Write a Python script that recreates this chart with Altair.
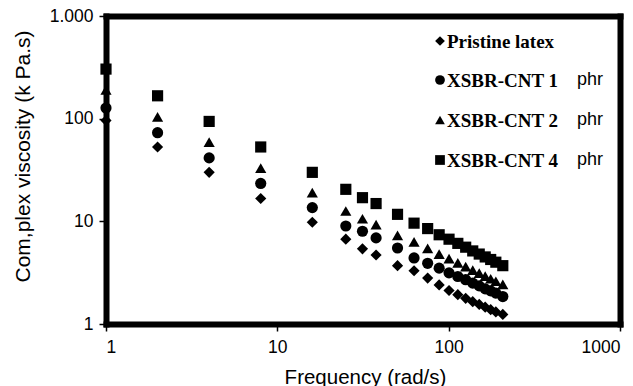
import altair as alt
import pandas as pd

# ---- data ----
freq = [1, 2, 4, 8, 16, 25.1, 31.4, 37.7, 50.3, 62.8, 75.4, 88.0, 100.5, 113.1,
        125.7, 138.2, 150.8, 163.4, 175.9, 188.5, 207]
series = ["Pristine latex", "XSBR-CNT 1 phr", "XSBR-CNT 2 phr", "XSBR-CNT 4 phr"]
pristine = [96, 53, 30, 16.7, 9.8, 6.7, 5.4, 4.7, 3.7, 3.3, 2.8, 2.4, 2.12, 1.93,
            1.78, 1.65, 1.55, 1.46, 1.38, 1.31, 1.24]
cnt1 = [127, 73, 41.5, 23.4, 13.6, 9.0, 8.0, 6.9, 5.5, 4.4, 3.9, 3.5, 3.15, 2.9,
        2.7, 2.5, 2.35, 2.2, 2.1, 2.0, 1.85]
cnt2 = [191, 104, 59, 33, 19, 12.6, 10.6, 9.3, 7.3, 6.3, 5.45, 4.8, 4.33, 3.94,
        3.62, 3.35, 3.13, 2.93, 2.76, 2.61, 2.43]
cnt4 = [304, 167, 94, 53, 30, 20.5, 17, 14.9, 11.7, 9.6, 8.5, 7.4, 6.7, 6.1,
        5.6, 5.15, 4.8, 4.5, 4.25, 4.0, 3.7]
shapes = ["diamond", "circle", "triangle-up", "square"]
legend_main = ["Pristine latex", "XSBR-CNT 1", "XSBR-CNT 2", "XSBR-CNT 4"]
legend_suffix = ["", "phr", "phr", "phr"]
axis_domain = [1, 1000]

values = [pristine, cnt1, cnt2, cnt4]
rows = []
for name, vals in zip(series, values):
    for f, v in zip(freq, vals):
        rows.append({"series": name, "freq": f, "visc": v})
df = pd.DataFrame(rows)

W, H = 514, 308

xscale = alt.Scale(type="log", domain=axis_domain, nice=False)
yscale = alt.Scale(type="log", domain=axis_domain, nice=False)

# thick black domain lines on the four sides form the frame
xaxis = alt.Axis(title="Frequency (rad/s)", values=[1, 10, 100, 1000],
                 format="d", labelPadding=7, titleX=259, titleY=53,
                 titleBaseline="middle", titleFontSize=20.5)
yaxis = alt.Axis(title="Com,plex viscosity (k Pa.s)", values=[1, 10, 100, 1000],
                 labelExpr="datum.value == 1000 ? '1.000' : datum.label",
                 format="d", labelPadding=6, titleX=-83, titleY=140,
                 titleAngle=-90, titleAlign="center", titleBaseline="middle",
                 titleFontSize=21)
xaxis_top = alt.Axis(orient="top", title=None, labels=False, ticks=False,
                     values=[1, 10, 100, 1000])
yaxis_right = alt.Axis(orient="right", title=None, labels=False, ticks=False,
                       values=[1, 10, 100, 1000])

points = alt.Chart(df).mark_point(filled=True, opacity=1, color="black", size=125).encode(
    x=alt.X("freq:Q", scale=xscale, axis=xaxis),
    y=alt.Y("visc:Q", scale=yscale, axis=yaxis),
    shape=alt.Shape("series:N", scale=alt.Scale(domain=series, range=shapes), legend=None),
)

box = alt.Chart(df).mark_point(opacity=0).encode(
    x=alt.X("freq:Q", scale=xscale, axis=xaxis_top),
    y=alt.Y("visc:Q", scale=yscale, axis=yaxis_right),
)

one = alt.Data(values=[{"a": 1}])
legend_layers = []
row_y = [25, 64, 104, 144]
for i in range(len(series)):
    legend_layers.append(
        alt.Chart(one).mark_point(filled=True, opacity=1, color="black", shape=shapes[i], size=95)
        .encode(x=alt.value(334), y=alt.value(row_y[i]))
    )
    legend_layers.append(
        alt.Chart(one).mark_text(text=legend_main[i], font="Liberation Serif", fontWeight="bold",
                                 fontSize=19, align="left", baseline="middle", color="black")
        .encode(x=alt.value(341), y=alt.value(row_y[i] + 1))
    )
    if legend_suffix[i]:
        legend_layers.append(
            alt.Chart(one).mark_text(text=legend_suffix[i], font="Liberation Sans",
                                     fontSize=18, align="left", baseline="middle", color="black")
            .encode(x=alt.value(471), y=alt.value(row_y[i]))
        )

chart = alt.layer(points, box, *legend_layers).resolve_axis(
    x="independent", y="independent"
).properties(
    width=W, height=H,
    autosize=alt.AutoSizeParams(type="none"),
    padding={"left": 106, "top": 16, "right": 13, "bottom": 62},
).configure_view(
    stroke=None
).configure_axis(
    domain=True, domainColor="black", domainWidth=6, domainCap="square",
    grid=False, ticks=True, tickColor="black", tickWidth=1.5, tickSize=7,
    labelFont="Liberation Sans", labelFontSize=17.5, labelColor="black",
    titleFont="Liberation Sans", titleFontWeight="normal", titleColor="black",
)

chart.save("out.html", embed_options={"renderer": "svg", "actions": False})
